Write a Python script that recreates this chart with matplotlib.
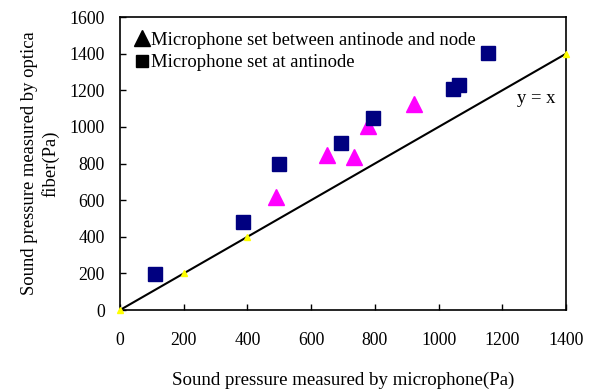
import matplotlib.pyplot as plt
from matplotlib.lines import Line2D

plt.rcParams['font.family'] = 'Liberation Serif'

# microphone set between antinode and node (triangles)
tri_x = [490, 650, 735, 778, 923]
tri_y = [620, 845, 835, 1005, 1125]

# microphone set at antinode (squares)
sq_x = [110, 385, 500, 694, 795, 1045, 1064, 1155]
sq_y = [195, 480, 800, 912, 1050, 1205, 1230, 1405]

# reference line y = x
ref_x = [0, 200, 400, 1400]
ref_y = [0, 200, 400, 1400]

fig = plt.figure(figsize=(5.97, 3.89), dpi=100)
ax = fig.add_axes([0.201, 0.203, 0.747, 0.753])

ax.plot(ref_x, ref_y, color='black', lw=1.5, zorder=2)
ax.plot(ref_x, ref_y, ls='none', marker='^', color='#ffff00', ms=5, zorder=3, clip_on=False)
ax.plot(tri_x, tri_y, ls='none', marker='^', color='#ff00ff', ms=11, zorder=4)
ax.plot(sq_x, sq_y, ls='none', marker='s', color='#000080', ms=10, zorder=4)

ax.set_xlim(0, 1400)
ax.set_ylim(0, 1600)
ax.set_xticks(range(0, 1401, 200))
ax.set_yticks(range(0, 1601, 200))
ax.tick_params(direction='in', labelsize=12.8, length=4, width=1)
ax.tick_params(axis='x', pad=16)
ax.tick_params(axis='y', pad=11)
for s in ax.spines.values():
    s.set_linewidth(1.2)

ax.set_xlabel('Sound pressure measured by microphone(Pa)', fontsize=13.6, labelpad=16)
ax.set_ylabel('Sound pressure measured by optica\nfiber(Pa)', fontsize=13.4, labelpad=7,
              linespacing=1.3)

ax.text(1245, 1158, 'y = x', fontsize=13.4, va='center')

handles = [
    Line2D([], [], ls='none', marker='^', color='black', ms=11),
    Line2D([], [], ls='none', marker='s', color='black', ms=9),
]
ax.legend(handles, ['Microphone set between antinode and node', 'Microphone set at antinode'],
          loc='upper left', frameon=False, fontsize=13.4, handlelength=0.6,
          handletextpad=0.2, labelspacing=0.3, borderaxespad=0.3,
          bbox_to_anchor=(0.007, 0.995))

fig.savefig('out.png', dpi=100)
